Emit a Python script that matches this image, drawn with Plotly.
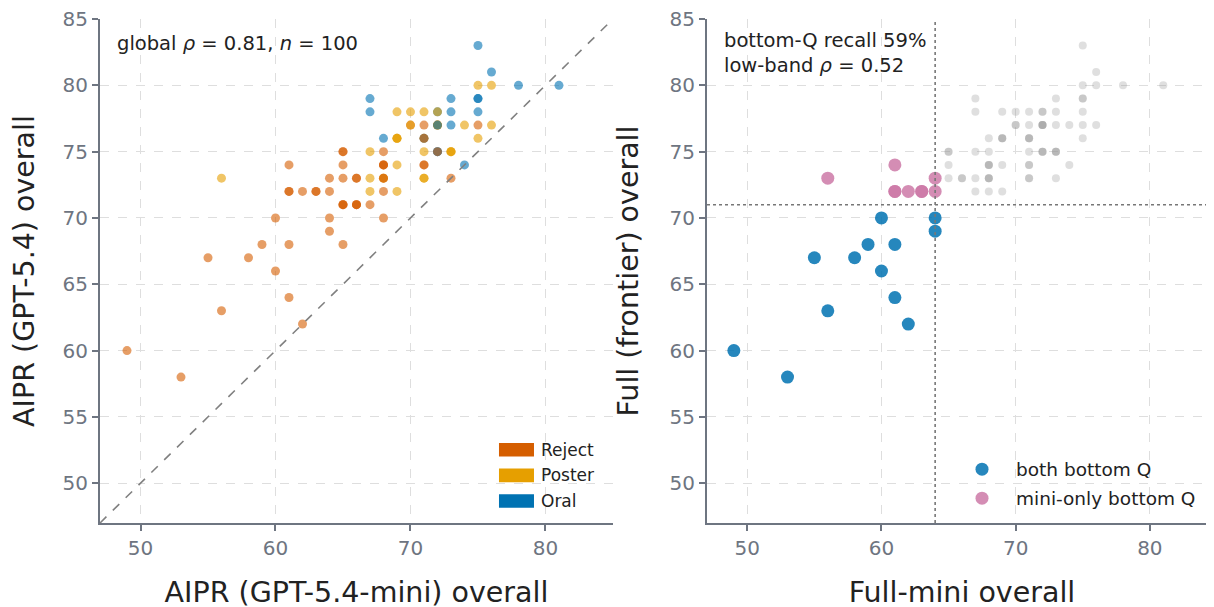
import plotly.graph_objects as go
from plotly.subplots import make_subplots

# AIPR overall scores per paper: mini judge (x) vs frontier judge (y), and the decision
mini_score = [
    75, 76, 75, 76, 78, 81, 67, 73, 75, 75,
    67, 69, 70, 71, 72, 72, 73, 75,
    70, 70, 71, 72, 72, 72, 72, 73, 74, 75, 76,
    68, 69, 69, 69, 71, 71, 71, 75,
    65, 65, 67, 68, 71, 72, 72, 72, 73, 73, 73,
    61, 65, 68, 68, 68, 69, 71, 71, 74,
    56, 64, 65, 66, 66, 67, 68, 68, 68, 71, 71, 73,
    61, 61, 62, 63, 63, 64, 67, 68, 69,
    65, 65, 65, 66, 66, 66, 67,
    60, 64, 68, 64, 59, 61, 65, 55, 58, 60, 61, 56, 62, 49, 53,
]
frontier_score = [
    83, 81, 80, 80, 80, 80, 79, 79, 79, 79,
    78, 78, 78, 78, 78, 78, 78, 78,
    77, 77, 77, 77, 77, 77, 77, 77, 77, 77, 77,
    76, 76, 76, 76, 76, 76, 76, 76,
    75, 75, 75, 75, 75, 75, 75, 75, 75, 75, 75,
    74, 74, 74, 74, 74, 74, 74, 74, 74,
    73, 73, 73, 73, 73, 73, 73, 73, 73, 73, 73, 73,
    72, 72, 72, 72, 72, 72, 72, 72, 72,
    71, 71, 71, 71, 71, 71, 71,
    70, 70, 70, 69, 68, 68, 68, 67, 67, 66, 64, 63, 62, 60, 58,
]
decision = [
    "Oral", "Oral", "Poster", "Poster", "Oral", "Oral", "Oral", "Oral", "Oral", "Oral",
    "Oral", "Poster", "Poster", "Poster", "Oral", "Poster", "Oral", "Oral",
    "Reject", "Poster", "Reject", "Reject", "Poster", "Poster", "Oral", "Oral", "Poster", "Reject", "Poster",
    "Oral", "Poster", "Poster", "Poster", "Poster", "Oral", "Reject", "Poster",
    "Reject", "Reject", "Poster", "Reject", "Poster", "Oral", "Oral", "Reject", "Poster", "Poster", "Poster",
    "Reject", "Reject", "Reject", "Reject", "Reject", "Poster", "Reject", "Reject", "Oral",
    "Poster", "Reject", "Reject", "Reject", "Reject", "Poster", "Reject", "Poster", "Reject", "Poster", "Poster", "Reject",
    "Reject", "Reject", "Reject", "Reject", "Reject", "Reject", "Poster", "Reject", "Poster",
    "Reject", "Reject", "Reject", "Reject", "Reject", "Reject", "Reject",
] + ["Reject"] * 15

decision_order = ["Reject", "Poster", "Oral"]
decision_colors = {"Reject": "#D55E00", "Poster": "#E69F00", "Oral": "#0072B2"}
decision_rgba = {"Reject": "rgba(213,94,0,0.6)", "Poster": "rgba(230,159,0,0.6)",
                 "Oral": "rgba(0,114,178,0.6)"}

# Bottom-quartile cut points
mini_q = 64
frontier_q = 71

global_rho = 0.81
recall_pct = 59
lowband_rho = 0.52

AX = "#6e7581"
TXT = "#222222"
FONT = "DejaVu Sans"

fig = make_subplots(rows=1, cols=2)

# ── Left: scores coloured by decision ────────────────────────────────────────
fig.add_trace(go.Scatter(
    x=mini_score, y=frontier_score, mode="markers",
    marker=dict(size=9, color=[decision_rgba[d] for d in decision], line=dict(width=0)),
    showlegend=False, hoverinfo="skip",
), row=1, col=1)

# ── Right: bottom-quartile overlap ───────────────────────────────────────────
grey_x, grey_y, both_x, both_y, mini_x, mini_y = [], [], [], [], [], []
for mx, fy in zip(mini_score, frontier_score):
    if mx <= mini_q and fy <= frontier_q:
        both_x.append(mx); both_y.append(fy)
    elif mx <= mini_q:
        mini_x.append(mx); mini_y.append(fy)
    elif fy > frontier_q:
        grey_x.append(mx); grey_y.append(fy)

fig.add_trace(go.Scatter(
    x=grey_x, y=grey_y, mode="markers",
    marker=dict(size=8, color="rgba(150,150,150,0.3)", line=dict(width=0)),
    showlegend=False, hoverinfo="skip",
), row=1, col=2)
fig.add_trace(go.Scatter(
    x=both_x, y=both_y, mode="markers", name="both bottom Q",
    marker=dict(size=13, color="rgba(0,114,178,0.85)", line=dict(width=0)),
    legend="legend2", legendgroup="both",
), row=1, col=2)
fig.add_trace(go.Scatter(
    x=mini_x, y=mini_y, mode="markers", name="mini-only bottom Q",
    marker=dict(size=13, color="rgba(204,121,167,0.85)", line=dict(width=0)),
    legend="legend2", legendgroup="mini",
), row=1, col=2)

# ── Reference lines ──────────────────────────────────────────────────────────
fig.add_shape(type="line", xref="x", yref="y", x0=47, y0=47, x1=85, y1=85,
              line=dict(color="#808080", width=1.6, dash="dash"))
fig.add_shape(type="line", xref="x2", yref="y2 domain", x0=mini_q, x1=mini_q, y0=0, y1=1,
              line=dict(color="#777777", width=1.6, dash="dot"))
fig.add_shape(type="line", xref="x2 domain", yref="y2", x0=0, x1=1, y0=frontier_q, y1=frontier_q,
              line=dict(color="#777777", width=1.6, dash="dot"))

# ── Left legend (colour patches) ─────────────────────────────────────────────
for i, name in enumerate(decision_order):
    yc = 0.1455 - i * 0.051
    fig.add_shape(type="rect", xref="paper", yref="paper",
                  x0=0.3556, x1=0.3868, y0=yc - 0.0134, y1=yc + 0.0134,
                  fillcolor=decision_colors[name], line=dict(width=0))
    fig.add_annotation(xref="paper", yref="paper", x=0.3913, y=yc, text=name,
                       showarrow=False, xanchor="left", yanchor="middle",
                       font=dict(size=17, color=TXT, family=FONT))

# ── Text annotations ─────────────────────────────────────────────────────────
fig.add_annotation(xref="x domain", yref="y domain", x=0.03, y=0.952,
                   text=f"global <i>ρ</i> = {global_rho}, <i>n</i> = {len(mini_score)}",
                   showarrow=False, xanchor="left", yanchor="middle",
                   font=dict(size=19.5, color=TXT, family=FONT))
fig.add_annotation(xref="x2 domain", yref="y2 domain", x=0.03, y=0.932,
                   text=f"bottom-Q recall {recall_pct}%<br>low-band <i>ρ</i> = {lowband_rho}",
                   showarrow=False, xanchor="left", yanchor="middle", align="left",
                   font=dict(size=19.5, color=TXT, family=FONT))

axis_style = dict(
    range=[47, 85], showgrid=True, gridcolor="#dedede", griddash="dash", gridwidth=1,
    showline=True, linecolor=AX, linewidth=2, ticks="outside", ticklen=6, tickwidth=1.5,
    tickcolor=AX, tickfont=dict(size=20, color=AX, family=FONT), zeroline=False,
    automargin=False, ticklabeloverflow="allow",
)
xticks = [50, 60, 70, 80]
yticks = [50, 55, 60, 65, 70, 75, 80, 85]
title_font = dict(size=28.5, color=TXT, family=FONT)

fig.update_xaxes(axis_style, tickvals=xticks)
fig.update_yaxes(axis_style, tickvals=yticks)
fig.update_xaxes(domain=[0, 0.4572], title=dict(text="AIPR (GPT-5.4-mini) overall",
                 font=title_font, standoff=23), row=1, col=1)
fig.update_xaxes(domain=[0.541, 0.9955], title=dict(text="Full-mini overall",
                 font=title_font, standoff=23), row=1, col=2)
fig.update_yaxes(title=dict(text="AIPR (GPT-5.4) overall",
                 font=title_font, standoff=23), row=1, col=1)
fig.update_yaxes(title=dict(text="Full (frontier) overall",
                 font=title_font, standoff=23), row=1, col=2)

# the page body adds an 8px offset, so margins are trimmed by that much
fig.update_layout(
    width=1214, height=607,
    margin=dict(l=92, r=0, t=11, b=92),
    plot_bgcolor="white", paper_bgcolor="white",
    font=dict(family=FONT, color=TXT),
    showlegend=True,
    legend2=dict(x=0.7558, y=0.1436, xanchor="left", yanchor="top",
                 bgcolor="rgba(255,255,255,0)", font=dict(size=18.5, color=TXT, family=FONT),
                 itemsizing="trace", itemwidth=58, tracegroupgap=2),
)

fig.write_html("out.html")
